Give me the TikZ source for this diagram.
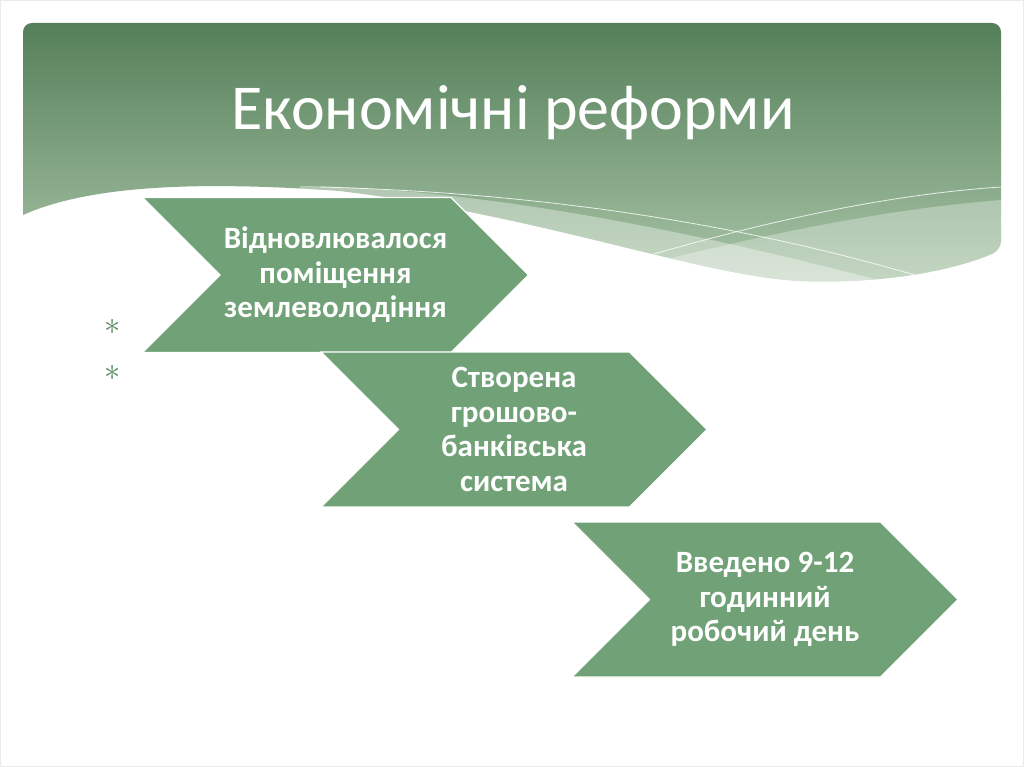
\documentclass[tikz,border=0pt]{standalone}
\usepackage{fontspec}
\setmainfont{Carlito}
\usepackage{graphicx}
\usepackage{tikz}
\usetikzlibrary{shapes.symbols, positioning}

\definecolor{bandtop}{RGB}{84,127,89}
\definecolor{bandbottom}{RGB}{172,199,170}
\definecolor{chevgreen}{RGB}{112,161,119}
\definecolor{bulletgreen}{RGB}{92,140,100}

\begin{document}
\begin{tikzpicture}[x=1pt, y=-1pt,
    chevron/.style={signal, signal from=west, signal to=east, signal pointer angle=90, draw=white, line width=1.2pt, fill=chevgreen, minimum width=386pt, minimum height=155pt, inner sep=0pt, align=center, text=white, font=\fontsize{31}{34.5}\selectfont\bfseries},
    bullet/.style={text=bulletgreen, inner sep=0pt, font=\fontsize{24}{24}\selectfont},
    heading/.style={text=white, anchor=base, font=\fontsize{64}{70}\selectfont}
]
\useasboundingbox (0,0) rectangle (1024,767);
\draw[black!8] (0.5,0.5) rectangle (1023.5,766.5);

% header band with the wave cut out below
\begin{scope}
\clip (1001,250) .. controls (950,272) and (880,284) .. (800,281)
    .. controls (700,276) and (540,215) .. (340,191)
    .. controls (200,181) and (90,185) .. (23,215)
    [rounded corners=9] -- (23,23) -- (1001,23) -- cycle;
\shade[top color=bandtop, bottom color=bandbottom] (23,23) rectangle (1001,290);
\fill[white, opacity=0.35] (300,186) .. controls (480,188) and (700,232) .. (900,286) -- (900,300) -- (300,300) -- cycle;
\fill[white, opacity=0.3] (560,286) .. controls (700,250) and (850,212) .. (1001,200) -- (1001,300) -- cycle;
\draw[white, opacity=0.8, line width=0.8pt] (320,187) .. controls (550,193) and (750,226) .. (925,278);
\draw[white, opacity=0.8, line width=0.8pt] (620,264) .. controls (750,225) and (880,195) .. (1001,187);
\end{scope}

\node[heading] (title) at (513,130) {Економічні реформи};

\node[bullet] (star1) at (113,327) {\scalebox{1.3}{$\ast$}};
\node[bullet] (star2) at (113,373) {\scalebox{1.3}{$\ast$}};

\node[chevron] (reform1) at (335.5,275) {Відновлювалося\\поміщення\\землеволодіння};
\node[chevron] (reform2) at (514,429.5) {Створена\\грошово-\\банківська\\система};
\node[chevron] (reform3) at (765,599.5) {Введено 9-12\\годинний\\робочий день};
\end{tikzpicture}
\end{document}
